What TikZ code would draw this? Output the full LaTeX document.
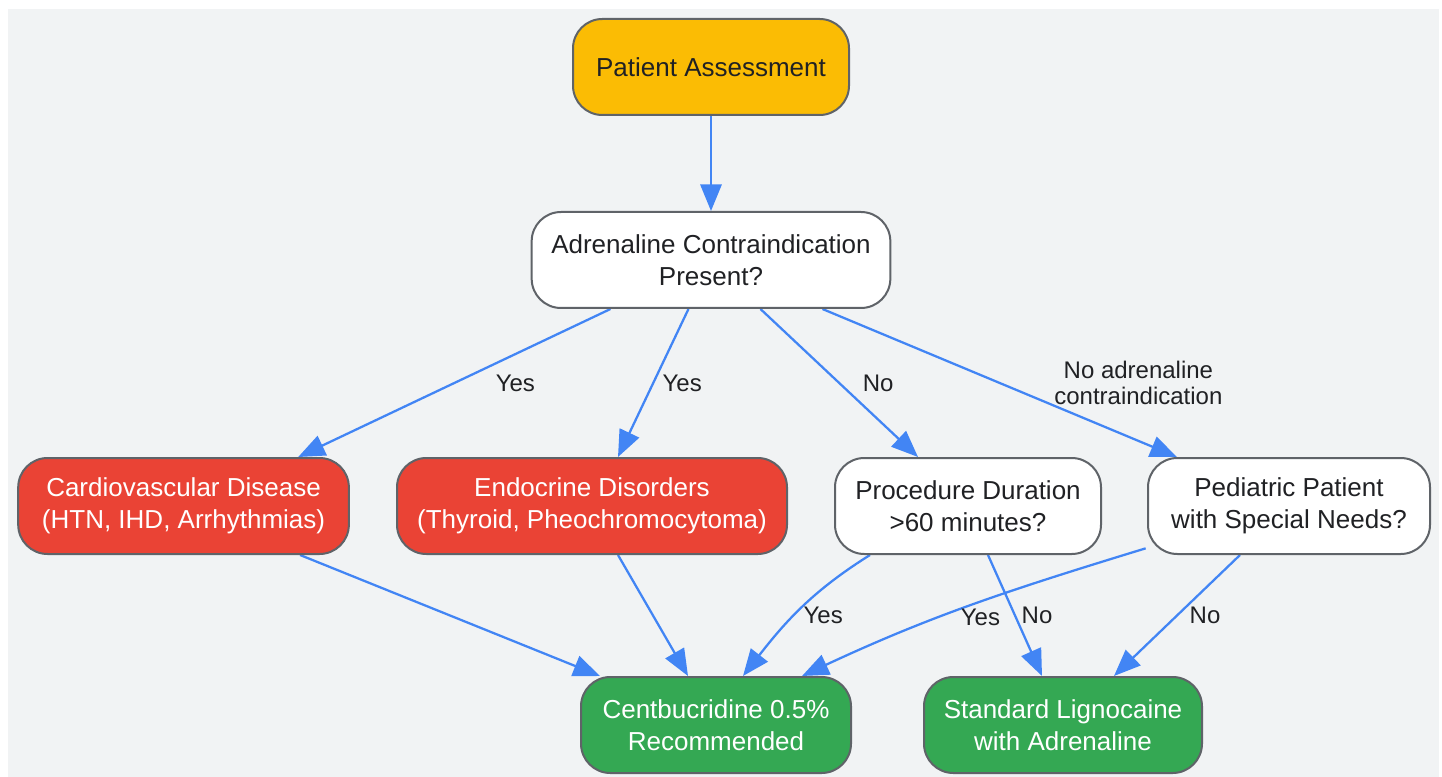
\documentclass[tikz,border=0pt]{standalone}
\usepackage{fontspec}
\setmainfont{Liberation Sans}
\usetikzlibrary{arrows.meta, positioning}
\usetikzlibrary{backgrounds}
\definecolor{pageBg}{HTML}{F1F3F4}
\definecolor{boxBorder}{HTML}{5F6368}
\definecolor{textDark}{HTML}{202124}
\definecolor{startYellow}{HTML}{FBBC04}
\definecolor{alertRed}{HTML}{EA4335}
\definecolor{goGreen}{HTML}{34A853}
\definecolor{linkBlue}{HTML}{4285F4}
\tikzset{
  box/.style     = {draw=boxBorder, line width=1.5pt, rectangle, rounded corners=22pt, minimum height=72pt, align=center, text=textDark, font=\fontsize{19.5}{24}\selectfont},
  askbox/.style  = {box, fill=white},
  warnbox/.style = {box, fill=alertRed, text=white},
  okbox/.style   = {box, fill=goGreen, text=white},
  myarrow/.style = {-{Triangle[length=20pt, width=16pt]}, line width=1.7pt, draw=linkBlue},
  lbl/.style     = {align=center, text=textDark, inner sep=0pt, font=\fontsize{18}{20}\selectfont},
}

\begin{document}
\begin{tikzpicture}[x=0.75pt, y=-0.75pt, node distance=144.75pt]
    \useasboundingbox (0,0) rectangle (1442,777);
    \node (n00) [box, fill=startYellow, minimum width=207pt] at (711,67) {Patient Assessment};
    \node (n10) [askbox, minimum width=269pt, below of=n00] {Adrenaline Contraindication\\Present?};
    \node (n20) [warnbox, minimum width=248pt, node distance=184.5pt, below of=n10, xshift=-395.6pt] {Cardiovascular Disease\\(HTN, IHD, Arrhythmias)};
    \node (n21) [warnbox, minimum width=292.5pt, node distance=184.5pt, below of=n10, xshift=-89.25pt] {Endocrine Disorders\\(Thyroid, Pheochromocytoma)};
    \node (n22) [askbox, minimum width=199.5pt, node distance=184.5pt, below of=n10, xshift=192.75pt] {Procedure Duration\\>60 minutes?};
    \node (n23) [askbox, minimum width=211.5pt, node distance=184.5pt, below of=n10, xshift=433.5pt] {Pediatric Patient\\with Special Needs?};
    \node (n30) [okbox, minimum width=202.5pt, node distance=348.75pt, below of=n10, xshift=3.75pt] {Centbucridine 0.5\%\\Recommended};
    \node (n31) [okbox, minimum width=208.5pt, node distance=348.75pt, below of=n10, xshift=264pt] {Standard Lignocaine\\with Adrenaline};

    \begin{scope}[on background layer]
        \fill [pageBg] (8,9) rectangle (1439,777);
        \draw [myarrow] (n00) -- (n10);
        \draw [myarrow] ([xshift=-75.4pt]n10.south) -- node (y20) [lbl, xshift=45.75pt] {Yes} ([xshift=86pt]n20.north);
        \draw [myarrow] ([xshift=-16.9pt]n10.south) -- node (y21) [lbl, xshift=21.75pt] {Yes} ([xshift=19.5pt]n21.north);
        \draw [myarrow] ([xshift=37.1pt]n10.south) -- node (y22) [lbl, xshift=29.25pt] {No} ([xshift=-37.5pt]n22.north);
        \draw [myarrow] ([xshift=83.6pt]n10.south) -- node (y23) [lbl, xshift=104pt] {No adrenaline\\contraindication} ([xshift=-84pt]n23.north);
        \draw [myarrow] ([xshift=87.4pt]n20.south) -- ([xshift=-87pt]n30.north);
        \draw [myarrow] ([xshift=19.5pt]n21.south) -- ([xshift=-21pt]n30.north);
        \draw [myarrow] ([xshift=-73.5pt]n22.south) to [out=212, in=52] node (y32) [lbl, xshift=17pt, yshift=-5pt] {Yes} ([xshift=20.25pt]n30.north);
        \draw [myarrow] ([xshift=15pt]n22.south) -- node (y33) [lbl, xshift=16.5pt] {No} ([xshift=-15.75pt]n31.north);
        \draw [myarrow] ([xshift=-1pt, yshift=5pt]n23.south west) to [out=197, in=25] node (y34) [lbl, xshift=7pt, yshift=-9pt] {Yes} ([xshift=64.5pt]n30.north);
        \draw [myarrow] ([xshift=-36.75pt]n23.south) -- node (y35) [lbl, xshift=21pt] {No} ([xshift=38.25pt]n31.north);
    \end{scope}
\end{tikzpicture}
\end{document}
